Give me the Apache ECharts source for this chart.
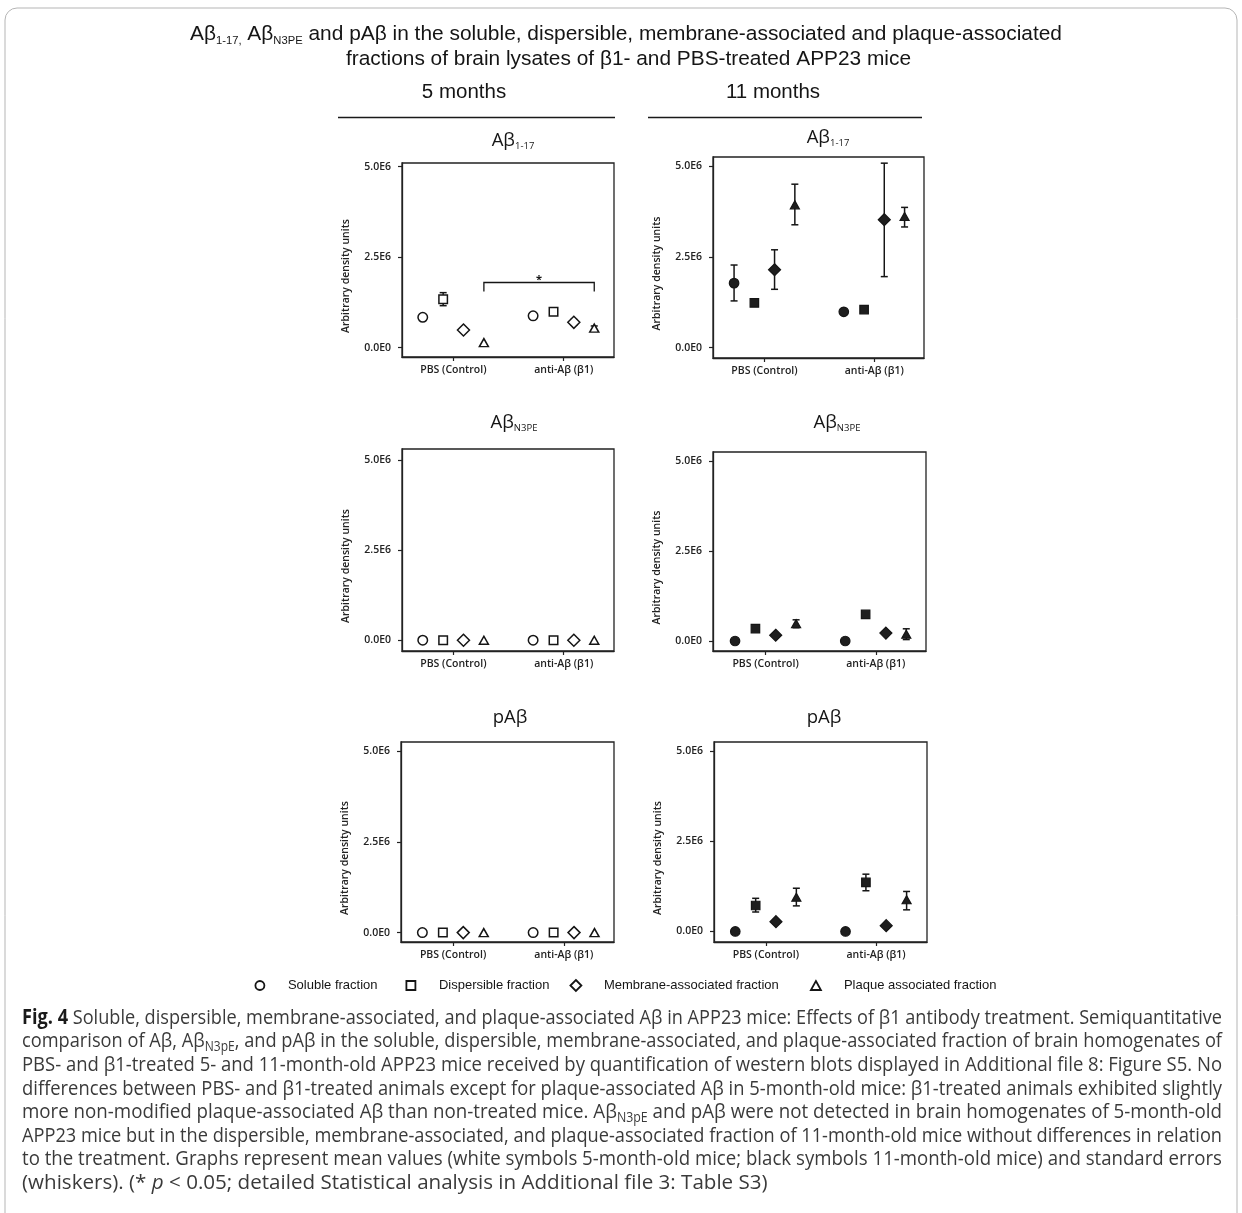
<!DOCTYPE html>
<html><head><meta charset="utf-8">
<script src="https://cdn.jsdelivr.net/npm/echarts@6/dist/echarts.min.js"></script>
<style>html,body{margin:0;padding:0;background:#fff}#c{width:1242px;height:1213px}</style>
</head><body><div id="c"></div>
<script>
// ---------------- DATA ----------------
const groups = ['PBS (Control)', 'anti-Aβ (β1)'];
const fractions = ['Soluble fraction', 'Dispersible fraction', 'Membrane-associated fraction', 'Plaque associated fraction'];
const yTickValues = [0, 2500000, 5000000];
const yTickLabels = ['0.0E0', '2.5E6', '5.0E6'];
const yAxisTitle = 'Arbitrary density units';
const columnTitles = ['5 months', '11 months'];

// rows: soluble, dispersible, membrane, plaque ; columns: [PBS, anti-Aβ]
const ab117_5m_mean  = [[0.84e6, 0.88e6], [1.34e6, 0.99e6], [0.49e6, 0.70e6], [0.14e6, 0.54e6]];
const ab117_5m_low   = [[null, null], [1.16e6, null], [null, 0.62e6], [null, 0.48e6]];
const ab117_5m_high  = [[null, null], [1.52e6, null], [null, 0.78e6], [null, 0.60e6]];
const ab117_11m_mean = [[1.78e6, 0.99e6], [1.235e6, 1.05e6], [2.15e6, 3.53e6], [3.94e6, 3.62e6]];
const ab117_11m_low  = [[1.29e6, null], [null, null], [1.61e6, 1.96e6], [3.39e6, 3.33e6]];
const ab117_11m_high = [[2.28e6, null], [null, null], [2.70e6, 5.09e6], [4.51e6, 3.87e6]];
const n3pe_5m_mean   = [[0, 0], [0, 0], [0, 0], [0, 0]];
const n3pe_11m_mean  = [[0, 0], [0.345e6, 0.74e6], [0.16e6, 0.22e6], [0.48e6, 0.19e6]];
const n3pe_11m_low   = [[null, null], [null, null], [null, null], [0.37e6, 0.04e6]];
const n3pe_11m_high  = [[null, null], [null, null], [null, null], [0.59e6, 0.34e6]];
const pab_5m_mean    = [[0, 0], [0, 0], [0, 0], [0, 0]];
const pab_11m_mean   = [[0, 0], [0.72e6, 1.36e6], [0.27e6, 0.16e6], [0.95e6, 0.88e6]];
const pab_11m_low    = [[null, null], [0.54e6, 1.13e6], [null, null], [0.71e6, 0.60e6]];
const pab_11m_high   = [[null, null], [0.92e6, 1.59e6], [null, null], [1.20e6, 1.11e6]];
// significance bracket (5 months, Aβ1-17): plaque fraction PBS vs anti-Aβ
const sig_ab117_5m = { fraction: 3, level: 1.80e6, tip: 1.55e6, mark: '*' };

// ---------------- LAYOUT / STYLE ----------------
const panelLayout = [
  { left: 402, top: 163, width: 212, height: 194, yMin: -0.257e6, yMax: 5.10e6, xMin: 0.535, xMax: 2.456, tx: 513, ty: 141 },
  { left: 713, top: 157, width: 211, height: 201, yMin: -0.285e6, yMax: 5.26e6, xMin: 0.531, xMax: 2.454, tx: 828, ty: 138 },
  { left: 402, top: 449, width: 212, height: 202, yMin: -0.30e6, yMax: 5.32e6, xMin: 0.535, xMax: 2.456, tx: 514, ty: 423 },
  { left: 713, top: 452, width: 213, height: 199, yMin: -0.278e6, yMax: 5.26e6, xMin: 0.523, xMax: 2.456, tx: 837, ty: 423 },
  { left: 401, top: 742, width: 213, height: 200, yMin: -0.259e6, yMax: 5.256e6, xMin: 0.530, xMax: 2.453, tx: 510, ty: 718 },
  { left: 714, top: 742, width: 213, height: 200, yMin: -0.293e6, yMax: 5.26e6, xMin: 0.530, xMax: 2.462, tx: 824, ty: 718 }
];
const panels = [
  { mean: ab117_5m_mean, low: ab117_5m_low, high: ab117_5m_high, filled: false, title: '{m|Aβ}{s|1-17}' },
  { mean: ab117_11m_mean, low: ab117_11m_low, high: ab117_11m_high, filled: true, title: '{m|Aβ}{s|1-17}' },
  { mean: n3pe_5m_mean, low: null, high: null, filled: false, title: '{m|Aβ}{s|N3PE}' },
  { mean: n3pe_11m_mean, low: n3pe_11m_low, high: n3pe_11m_high, filled: true, title: '{m|Aβ}{s|N3PE}' },
  { mean: pab_5m_mean, low: null, high: null, filled: false, title: '{m|pAβ}' },
  { mean: pab_11m_mean, low: pab_11m_low, high: pab_11m_high, filled: true, title: '{m|pAβ}' }
];
const offsets = [-0.277, -0.092, 0.092, 0.277];
const symbols = ['circle', 'rect', 'diamond', 'triangle'];
const symbolSizes = [9.5, 8.5, 12, [9, 8]];
const INK = '#151515';
const AX = '#222';
const tickFont = { fontFamily: "'Open Sans'", fontWeight: 600, fontSize: 10.5, color: AX };

const grids = [], xAxes = [], yAxes = [], series = [];
panelLayout.forEach((L, p) => {
  const P = panels[p];
  grids.push({ left: L.left, top: L.top, width: L.width, height: L.height, show: true,
    borderColor: AX, borderWidth: 1.3, backgroundColor: 'transparent', containLabel: false, outerBoundsMode: 'none' });
  xAxes.push({ gridIndex: p, type: 'value', min: L.xMin, max: L.xMax,
    axisLine: { show: true, onZero: false, lineStyle: { color: AX, width: 1.3 } },
    axisTick: { show: true, customValues: [1, 2], length: 4, lineStyle: { color: AX, width: 1.2 } },
    axisLabel: { customValues: [1, 2], formatter: v => groups[Math.round(v) - 1], margin: 8, ...tickFont },
    splitLine: { show: false } });
  yAxes.push({ gridIndex: p, type: 'value', min: L.yMin, max: L.yMax,
    axisLine: { show: true, onZero: false, lineStyle: { color: AX, width: 1.3 } },
    axisTick: { show: true, customValues: yTickValues, length: 4, lineStyle: { color: AX, width: 1.2 } },
    axisLabel: { customValues: yTickValues, formatter: v => yTickLabels[yTickValues.indexOf(v)], margin: 11, ...tickFont },
    splitLine: { show: false },
    name: yAxisTitle, nameLocation: 'middle', nameGap: 50, nameMoveOverlap: false,
    nameTextStyle: { fontFamily: "'Open Sans'", fontWeight: 600, fontSize: 10.5, color: AX, padding: [0, 32, 0, 0] } });

  // error bars
  const err = [];
  if (P.low) {
    P.low.forEach((row, f) => row.forEach((lo, g) => {
      if (lo !== null) err.push([g + 1 + offsets[f], lo, P.high[f][g]]);
    }));
  }
  series.push({
    type: 'custom', xAxisIndex: p, yAxisIndex: p, z: 2, silent: true, data: err,
    encode: { x: 0, y: [1, 2] },
    renderItem: (params, api) => {
      const x = api.value(0);
      const a = api.coord([x, api.value(2)]), b = api.coord([x, api.value(1)]);
      const cw = 3.5, st = { stroke: INK, lineWidth: 1.5 };
      return { type: 'group', children: [
        { type: 'line', shape: { x1: a[0], y1: a[1], x2: b[0], y2: b[1] }, style: st },
        { type: 'line', shape: { x1: a[0] - cw, y1: a[1], x2: a[0] + cw, y2: a[1] }, style: st },
        { type: 'line', shape: { x1: b[0] - cw, y1: b[1], x2: b[0] + cw, y2: b[1] }, style: st }
      ] };
    }
  });

  fractions.forEach((name, f) => {
    series.push({
      type: 'scatter', name, xAxisIndex: p, yAxisIndex: p, z: 3, silent: true,
      symbol: symbols[f], symbolSize: symbolSizes[f],
      itemStyle: P.filled ? { color: '#1e1e1e', borderColor: INK, borderWidth: 1.2, opacity: 1 }
                          : { color: '#ffffff', borderColor: INK, borderWidth: 1.5, opacity: 1 },
      data: groups.map((g, gi) => [gi + 1 + offsets[f], P.mean[f][gi]])
    });
  });
});

// significance bracket on panel 0
series.push({
  type: 'custom', xAxisIndex: 0, yAxisIndex: 0, z: 4, silent: true,
  data: [[1 + offsets[sig_ab117_5m.fraction], 2 + offsets[sig_ab117_5m.fraction], sig_ab117_5m.level, sig_ab117_5m.tip]],
  encode: { x: [0, 1], y: [2, 3] },
  renderItem: (params, api) => {
    const a = api.coord([api.value(0), api.value(3)]);
    const b = api.coord([api.value(0), api.value(2)]);
    const c = api.coord([api.value(1), api.value(2)]);
    const d = api.coord([api.value(1), api.value(3)]);
    return { type: 'group', children: [
      { type: 'polyline', shape: { points: [a, b, c, d] }, style: { stroke: INK, lineWidth: 1.3, fill: null } },
      { type: 'text', style: { text: sig_ab117_5m.mark, x: (b[0] + c[0]) / 2, y: b[1] - 3,
        align: 'center', verticalAlign: 'middle', font: "bold 11px 'Open Sans'", fill: INK } }
    ] };
  }
});

// legends
const legendCenters = [259, 410, 575, 815];
const legendIcons = ['circle', 'rect', 'diamond', 'triangle'];
const legendSizes = [[9, 9], [9, 9], [11, 11], [10, 9]];
const legends = fractions.map((name, f) => {
  const [w, h] = legendSizes[f];
  return {
    data: [{ name, icon: legendIcons[f] }], left: legendCenters[f] - w / 2, top: 979, padding: 0,
    itemWidth: w, itemHeight: h, selectedMode: false,
    itemStyle: { color: '#ffffff', borderColor: INK, borderWidth: 1.8 },
    textStyle: { fontFamily: "'Liberation Sans', Arial", fontSize: 13, color: INK, padding: [0, 0, 0, 23 - w / 2] }
  };
});

// ---------------- TEXT GRAPHICS ----------------
const ctx = document.createElement('canvas').getContext('2d');
function measure(segs, styles) {
  let w = 0;
  segs.forEach(([k, t]) => {
    const s = styles[k];
    ctx.font = `${s.fontStyle || 'normal'} ${s.fontWeight || 'normal'} ${s.fontSize}px ${s.fontFamily}`;
    w += ctx.measureText(t).width;
  });
  return w;
}
const toRich = segs => segs.map(([k, t]) => `{${k}|${t}}`).join('');

const hdrFam = "'Liberation Sans', Arial";
const hdrStyles = {
  m: { fontFamily: hdrFam, fontSize: 20.5, verticalAlign: 'bottom', padding: [0, 0, 2, 0] },
  s: { fontFamily: "'Liberation Sans Narrow', 'Liberation Sans'", fontSize: 11, verticalAlign: 'bottom' }
};
const headerLines = [
  { segs: [['m', 'Aβ'], ['s', '1-17,'], ['m', ' Aβ'], ['s', 'N3PE'], ['m', ' and pAβ in the soluble, dispersible, membrane-associated and plaque-associated']], cx: 626, cy: 35, w: 872 },
  { segs: [['m', 'fractions of brain lysates of β1- and PBS-treated APP23 mice']], cx: 628.5, cy: 60, w: 565 }
];

const graphics = [];
headerLines.forEach(h => {
  const sc = h.w / measure(h.segs, hdrStyles);
  graphics.push({ type: 'text', x: h.cx, y: h.cy, scaleX: sc, silent: true,
    style: { text: toRich(h.segs), rich: hdrStyles, fill: INK, align: 'center', verticalAlign: 'middle',
      fontFamily: hdrFam, fontSize: 20.5 } });
});
[[464, 92], [773, 92]].forEach(([x, y], i) => {
  graphics.push({ type: 'text', x, y, silent: true, style: { text: columnTitles[i], fill: INK, align: 'center',
    verticalAlign: 'middle', font: `20.5px ${hdrFam}` } });
});
[[338, 615], [648, 922]].forEach(([x1, x2]) => {
  graphics.push({ type: 'line', silent: true, shape: { x1, y1: 117.5, x2, y2: 117.5 }, style: { stroke: '#1a1a1a', lineWidth: 1.6 } });
});

const ptStyles = {
  m: { fontFamily: "'Open Sans'", fontSize: 18.5, verticalAlign: 'bottom', padding: [0, 0, 1.5, 0] },
  s: { fontFamily: "'Open Sans'", fontSize: 9.5, verticalAlign: 'bottom' }
};
panelLayout.forEach((L, p) => {
  graphics.push({ type: 'text', x: L.tx, y: L.ty, silent: true,
    style: { text: panels[p].title, rich: ptStyles, fill: INK, align: 'center', verticalAlign: 'middle',
      fontFamily: "'Open Sans'", fontSize: 18.5 } });
});

// caption
const capFam = "'Open Sans'";
const capBase = 15;
const capLines = [
  [['b', 'Fig. 4'], ['n', ' Soluble, dispersible, membrane-associated, and plaque-associated Aβ in APP23 mice: Effects of β1 antibody treatment. Semiquantitative']],
  [['n', 'comparison of Aβ, Aβ'], ['s', 'N3pE'], ['n', ', and pAβ in the soluble, dispersible, membrane-associated, and plaque-associated fraction of brain homogenates of']],
  [['n', 'PBS- and β1-treated 5- and 11-month-old APP23 mice received by quantification of western blots displayed in Additional file 8: Figure S5. No']],
  [['n', 'differences between PBS- and β1-treated animals except for plaque-associated Aβ in 5-month-old mice: β1-treated animals exhibited slightly']],
  [['n', 'more non-modified plaque-associated Aβ than non-treated mice. Aβ'], ['s', 'N3pE'], ['n', ' and pAβ were not detected in brain homogenates of 5-month-old']],
  [['n', 'APP23 mice but in the dispersible, membrane-associated, and plaque-associated fraction of 11-month-old mice without differences in relation']],
  [['n', 'to the treatment. Graphs represent mean values (white symbols 5-month-old mice; black symbols 11-month-old mice) and standard errors']],
  [['n', '(whiskers). (* '], ['i', 'p'], ['n', ' < 0.05; detailed Statistical analysis in Additional file 3: Table S3)']]
];
function capStyles(fs) {
  const pb = [0, 0, 2, 0];
  return {
    b: { fontFamily: capFam, fontSize: fs, fontWeight: 'bold', verticalAlign: 'bottom', padding: pb, fill: '#1a1a1a' },
    n: { fontFamily: capFam, fontSize: fs, verticalAlign: 'bottom', padding: pb, fill: '#3a3a3a' },
    i: { fontFamily: capFam, fontSize: fs, fontStyle: 'italic', verticalAlign: 'bottom', padding: pb, fill: '#3a3a3a' },
    s: { fontFamily: capFam, fontSize: fs * 0.66, verticalAlign: 'bottom', fill: '#3a3a3a' }
  };
}
const lastW = measure(capLines[7], capStyles(capBase));
const capFs = capBase * 746 / lastW;
const cs = capStyles(capFs);
capLines.forEach((segs, i) => {
  const w = measure(segs, cs);
  const sc = i < 7 ? 1200 / w : 1;
  graphics.push({ type: 'text', x: 22, y: 1019 + i * 23.6, scaleX: sc, silent: true,
    style: { text: toRich(segs), rich: cs, fill: '#3a3a3a', align: 'left', verticalAlign: 'middle',
      fontFamily: capFam, fontSize: capFs } });
});

// frame border
graphics.push({ type: 'rect', silent: true, z: -1, shape: { x: 5, y: 8, width: 1232, height: 1240, r: 12 },
  style: { fill: 'none', stroke: '#b5b5b5', lineWidth: 1 } });

const chart = echarts.init(document.getElementById('c'), null, { renderer: 'canvas' });
chart.setOption({
  animation: false,
  backgroundColor: '#fff',
  grid: grids, xAxis: xAxes, yAxis: yAxes,
  legend: legends,
  series,
  graphic: { elements: graphics }
});
</script>
</body></html>
